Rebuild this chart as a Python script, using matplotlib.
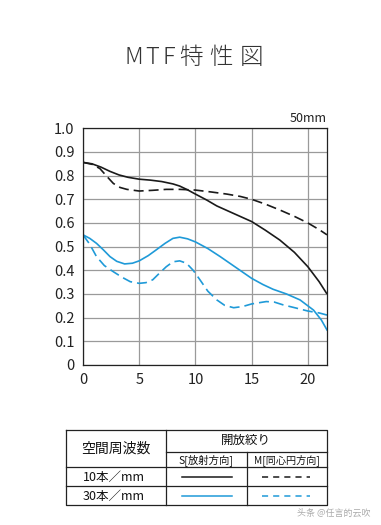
import matplotlib
matplotlib.use("Agg")
import matplotlib.pyplot as plt
import numpy as np

plt.rcParams['font.family'] = ['Noto Sans CJK JP', 'DejaVu Sans']

# Data (image height in mm vs MTF)
x_10s = [0, 0.8, 1.6, 2.4, 3.2, 4.0, 5.0, 6.0, 7.0, 8.0, 8.6, 9.3, 10.0, 11.0, 11.9, 13.4, 15.0, 16.2, 17.5, 18.8, 20.0, 21.0, 21.7]
y_10s = [0.856, 0.850, 0.836, 0.818, 0.803, 0.793, 0.785, 0.781, 0.775, 0.765, 0.756, 0.740, 0.722, 0.697, 0.672, 0.640, 0.606, 0.570, 0.528, 0.476, 0.415, 0.352, 0.300]
x_10m = [0, 0.8, 1.5, 2.1, 2.7, 3.3, 3.9, 5.0, 6.2, 7.4, 8.6, 10.0, 11.4, 12.8, 14.0, 15.0, 16.2, 17.5, 18.8, 20.0, 21.0, 21.7]
y_10m = [0.856, 0.848, 0.830, 0.798, 0.767, 0.750, 0.742, 0.735, 0.738, 0.742, 0.742, 0.739, 0.731, 0.722, 0.712, 0.700, 0.680, 0.655, 0.628, 0.600, 0.572, 0.550]
x_30s = [0, 0.6, 1.2, 1.8, 2.4, 3.0, 3.7, 4.4, 5.0, 5.8, 6.5, 7.3, 8.0, 8.6, 9.3, 10.0, 11.1, 12.2, 13.6, 15.0, 16.0, 16.9, 18.1, 19.3, 20.5, 21.2, 21.7]
y_30s = [0.550, 0.535, 0.514, 0.487, 0.458, 0.438, 0.427, 0.430, 0.440, 0.462, 0.486, 0.514, 0.535, 0.540, 0.533, 0.520, 0.492, 0.458, 0.412, 0.366, 0.340, 0.320, 0.300, 0.275, 0.232, 0.190, 0.148]
x_30m = [0, 0.6, 1.2, 1.9, 2.7, 3.5, 4.2, 5.0, 5.6, 6.2, 6.8, 7.4, 8.0, 8.6, 9.2, 9.8, 10.4, 11.1, 11.9, 12.6, 13.4, 14.2, 15.0, 16.3, 17.0, 17.8, 19.0, 20.0, 21.0, 21.7]
y_30m = [0.550, 0.510, 0.458, 0.420, 0.394, 0.370, 0.352, 0.345, 0.348, 0.360, 0.388, 0.415, 0.436, 0.440, 0.430, 0.400, 0.360, 0.312, 0.275, 0.252, 0.242, 0.247, 0.258, 0.268, 0.266, 0.254, 0.240, 0.228, 0.220, 0.211]

x_ticks = [0, 5, 10, 15, 20]
y_ticks = [0.0, 0.1, 0.2, 0.3, 0.4, 0.5, 0.6, 0.7, 0.8, 0.9, 1.0]
y_ticklabels = ['0', '0.1', '0.2', '0.3', '0.4', '0.5', '0.6', '0.7', '0.8', '0.9', '1.0']

title_chars = ['M', 'T', 'F', '特', '性', '図']

BLUE = '#1f9ad8'
W, H = 381, 525
fig = plt.figure(figsize=(W / 100, H / 100), dpi=100)
fig.patch.set_facecolor('white')

ax = fig.add_axes([83 / W, 1 - 365 / H, (327 - 83) / W, (365 - 128.3) / H])
ax.plot(x_10s, y_10s, color='#1a1a1a', lw=1.2, solid_capstyle='butt')
ax.plot(x_10m, y_10m, color='#1a1a1a', lw=1.2, dashes=(6, 3))
ax.plot(x_30s, y_30s, color=BLUE, lw=1.2)
ax.plot(x_30m, y_30m, color=BLUE, lw=1.2, dashes=(6, 3))
ax.set_xlim(0, 21.7)
ax.set_ylim(0, 1.0)
ax.set_xticks(x_ticks)
ax.set_yticks(y_ticks)
ax.set_yticklabels(y_ticklabels)
ax.grid(True, color='#9a9a9a', lw=0.9)
ax.set_axisbelow(True)
ax.tick_params(length=0, labelsize=10.5, colors='#222222', pad=6)
for s in ax.spines.values():
    s.set_color('#222222')
    s.set_linewidth(0.9)

# overlay axes in pixel coordinates for texts and table
ov = fig.add_axes([0, 0, 1, 1])
ov.set_xlim(0, W)
ov.set_ylim(H, 0)
ov.axis('off')
ov.patch.set_alpha(0)

# title with wide letter spacing
title_x = [134, 152, 169, 191, 221, 252]
for ch, tx in zip(title_chars, title_x):
    ov.text(tx, 57, ch, ha='center', va='center', fontsize=17, color='#333333',
            fontweight='light')
ov.text(327, 119, '50mm', ha='right', va='center', fontsize=9, color='#222222')

# table
lc = '#222222'
L, R, T, B = 66, 327, 430, 505
c1, c2 = 166, 247
r1, r2, r3 = 452, 467, 486
ov.plot([L, R, R, L, L], [T, T, B, B, T], color=lc, lw=0.9)
ov.plot([c1, c1], [T, B], color=lc, lw=0.9)
ov.plot([c2, c2], [r1, B], color=lc, lw=0.9)
ov.plot([c1, R], [r1, r1], color=lc, lw=0.9)
ov.plot([L, R], [r2, r2], color=lc, lw=0.9)
ov.plot([L, R], [r3, r3], color=lc, lw=0.9)

ov.text(116, 449, '空間周波数', ha='center', va='center', fontsize=10, color='#111111')
ov.text(246, 440, '開放絞り', ha='center', va='center', fontsize=9, color='#111111')
ov.text(206, 460, 'S[放射方向]', ha='center', va='center', fontsize=7.5, color='#111111')
ov.text(287, 460, 'M[同心円方向]', ha='center', va='center', fontsize=7.3, color='#111111')
ov.text(114, 477, '10本／mm', ha='center', va='center', fontsize=9, color='#111111')
ov.text(114, 496, '30本／mm', ha='center', va='center', fontsize=9, color='#111111')
ov.plot([182, 232], [477, 477], color='#1a1a1a', lw=1.1)
ov.plot([182, 232], [496, 496], color=BLUE, lw=1.1)
ov.plot([262, 310], [477, 477], color='#1a1a1a', lw=1.1, dashes=(4, 3.3))
ov.plot([262, 310], [496, 496], color=BLUE, lw=1.1, dashes=(4, 3.3))

ov.text(334, 513, '头条 @任言的云吹', ha='center', va='center', fontsize=6.5,
        color='#aaaaaa', family=['Noto Sans CJK SC', 'DejaVu Sans'])

fig.savefig('out.png', dpi=100, facecolor='white')
